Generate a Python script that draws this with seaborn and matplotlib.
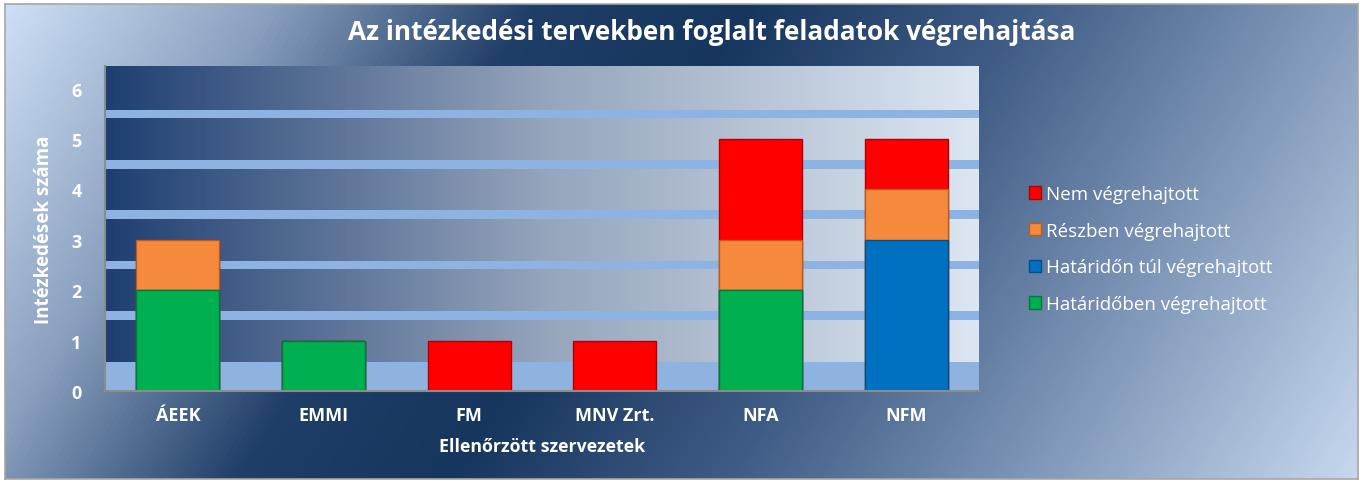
import numpy as np
import pandas as pd
import matplotlib
matplotlib.use("Agg")
import matplotlib.pyplot as plt
from matplotlib.colors import LinearSegmentedColormap
from matplotlib.patches import Patch
import seaborn as sns

categories = ["ÁEEK", "EMMI", "FM", "MNV Zrt.", "NFA", "NFM"]
hataridoben = [2, 1, 0, 0, 2, 0]
hataridon_tul = [0, 0, 0, 0, 0, 3]
reszben = [1, 0, 0, 0, 1, 1]
nem = [0, 0, 1, 1, 2, 1]
series_names = ["Határidőben végrehajtott", "Határidőn túl végrehajtott",
                "Részben végrehajtott", "Nem végrehajtott"]
series_values = [hataridoben, hataridon_tul, reszben, nem]
series_colors = ["#00b050", "#0070c0", "#f68a3c", "#ff0000"]
edge_colors = ["#007a38", "#00508c", "#b85f20", "#b00000"]
yticks = [0, 1, 2, 3, 4, 5, 6]
title = "Az intézkedési tervekben foglalt feladatok végrehajtása"
xlabel = "Ellenőrzött szervezetek"
ylabel = "Intézkedések száma"

sns.set_theme(style="white")
plt.rcParams["font.family"] = ["Open Sans", "DejaVu Sans"]

W, H = 1363, 485
fig = plt.figure(figsize=(W / 100, H / 100), dpi=100, facecolor="white")

# figure background gradient
bg = fig.add_axes([5 / W, 5 / H, (W - 10) / W, (H - 10) / H], zorder=-10)
xx, yy = np.meshgrid(np.arange(W), np.arange(H))
s = (485 * xx + 300 * yy) / 806555.0
bg_cmap = LinearSegmentedColormap.from_list(
    "bg", [(0, "#cddff5"), (0.16, "#8aa0bf"), (0.32, "#1f3e68"), (0.45, "#17365d"),
           (0.62, "#3f5c86"), (0.8, "#7f97b8"), (1.0, "#c6d8ee")])
bg.imshow(s, cmap=bg_cmap, aspect="auto", extent=[0, 1, 0, 1], origin="upper", vmin=0, vmax=1)
bg.set_xticks([]); bg.set_yticks([])
for sp in bg.spines.values():
    sp.set_color("#a6a6a6"); sp.set_linewidth(1.2)

ax = fig.add_axes([105 / W, 1 - 392 / H, (979 - 105) / W, (392 - 67) / H])
ax.set_xlim(-0.5, len(categories) - 0.5)
ymax = 6.45
ax.set_ylim(0, ymax)

# plot-area gradient
pa_cmap = LinearSegmentedColormap.from_list(
    "pa", [(0, "#1f3f72"), (0.5, "#95a4bb"), (1.0, "#dce6f2")])
grad = np.linspace(0, 1, 400).reshape(1, -1)
ax.imshow(grad, cmap=pa_cmap, aspect="auto",
          extent=[-0.5, len(categories) - 0.5, 0, ymax], zorder=0)
# floor and 3D gridline bands
ax.axhspan(0, 0.56, color="#8fb2df", zorder=1, lw=0)
for t in yticks[1:]:
    ax.axhspan(t - 0.5 - 0.085, t - 0.5 + 0.085, color="#8db3e2", zorder=1, lw=0)

# stacked bars (cumulative, drawn from top layer down)
cum = np.cumsum(np.array(series_values), axis=0)
for i in range(len(series_names) - 1, -1, -1):
    df = pd.DataFrame({"cat": categories, "val": cum[i]})
    sns.barplot(data=df, x="cat", y="val", order=categories, color=series_colors[i],
                saturation=1, width=0.57, edgecolor=edge_colors[i], linewidth=1.0,
                ax=ax, zorder=3)

ax.set_yticks(yticks)
ax.set_yticklabels([str(v) for v in yticks])
ax.tick_params(axis="both", length=0, labelsize=13, labelcolor="white")
ax.tick_params(axis="x", pad=11)
ax.tick_params(axis="y", pad=17)
for lab in ax.get_xticklabels() + ax.get_yticklabels():
    lab.set_fontweight("bold")
ax.set_xlabel(xlabel, color="white", fontsize=12.8, fontweight="bold", labelpad=9)
ax.set_ylabel(ylabel, color="white", fontsize=13.5, fontweight="bold", labelpad=12)
for name, sp in ax.spines.items():
    sp.set_visible(name in ("left", "bottom"))
    sp.set_color("#8c8c8c")
    sp.set_linewidth(1.5)
    sp.set_zorder(5)

fig.text(712 / W, 1 - 33 / H, title, ha="center", va="center", color="white",
         fontsize=18.9, fontweight="bold")

handles = [Patch(facecolor=series_colors[i], edgecolor=edge_colors[i], label=series_names[i])
           for i in range(len(series_names) - 1, -1, -1)]
leg = fig.legend(handles=handles, loc="center left", bbox_to_anchor=(1012 / W, 1 - 250 / H),
                 frameon=False, fontsize=13.5, labelcolor="white", handlelength=0.65,
                 handleheight=0.65, handletextpad=0.25, labelspacing=1.0)

fig.savefig("out.png", dpi=100, facecolor="white")
